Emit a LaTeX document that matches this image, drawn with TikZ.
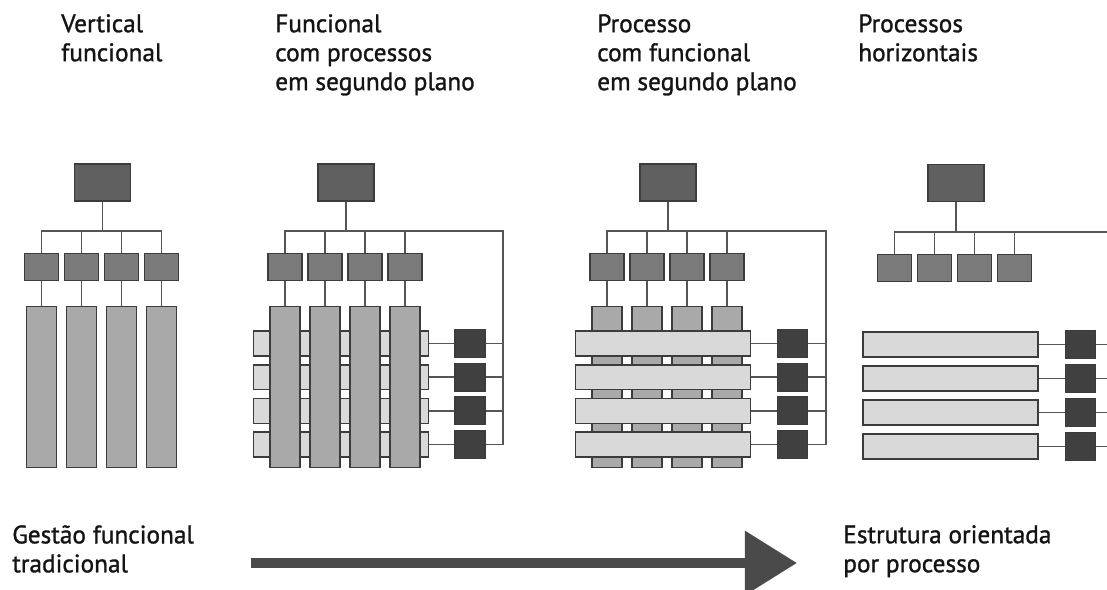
\documentclass[tikz,border=0pt]{standalone}
\usepackage{fontspec}
\setmainfont[FakeBold=1.2]{PT Sans}
\usetikzlibrary{positioning}
\usetikzlibrary{arrows.meta}
\definecolor{topgray}{HTML}{606060}
\definecolor{midgray}{HTML}{7B7B7B}
\definecolor{colgray}{HTML}{A9A9A9}
\definecolor{rowgray}{HTML}{D9D9D9}
\definecolor{ownergray}{HTML}{404040}
\definecolor{edgegray}{HTML}{3C3C3C}
\definecolor{linegray}{HTML}{555555}
\definecolor{arrowgray}{HTML}{4A4A4A}
\definecolor{textgray}{HTML}{141414}

\begin{document}
\begin{tikzpicture}[x=0.025cm, y=-0.025cm,
    box/.style={draw=edgegray, line width=1.1pt, inner sep=0pt},
    topbox/.style={box, fill=topgray, minimum width=1.41cm, minimum height=0.92cm},
    midbox/.style={box, fill=midgray, minimum width=0.84cm, minimum height=0.67cm},
    colbox/.style={box, fill=colgray, minimum width=0.74cm, minimum height=4.02cm},
    rowbox/.style={box, fill=rowgray, minimum width=4.37cm, minimum height=0.62cm},
    ownerbox/.style={box, fill=ownergray, minimum width=0.76cm, minimum height=0.69cm},
    conn/.style={draw=linegray, line width=1.1pt},
    heading/.style={font=\fontsize{18}{20.6}\selectfont, text=textgray, align=left, anchor=north west, inner sep=0pt},
    progress/.style={draw=arrowgray, line width=7.1pt, -{Triangle[length=37pt, width=44pt]}}]
  \useasboundingbox (0,0) rectangle (1107,590);

  % titles
  \node[heading] (t1) at (61,14) {Vertical\\funcional};
  \node[heading] (t2) at (275,14) {Funcional\\com processos\\em segundo plano};
  \node[heading] (t3) at (597,14) {Processo\\com funcional\\em segundo plano};
  \node[heading] (t4) at (858,14) {Processos\\horizontais};

  % vertical functional
  \node[topbox] (p1top) at (102.5,182.5) {};
  \coordinate (p1bus) at (102.5,231);
  \foreach \i in {1,...,4} {
    \node[midbox] (p1m\i) at ({41.5+40*(\i-1)},267) {};
    \node[colbox] (p1c\i) at ({41.5+40*(\i-1)},387) {};
    \draw[conn] (p1top) -- (p1bus) -| (p1m\i);
    \draw[conn] (p1m\i) -- (p1c\i);
  }

  % functional with processes behind
  \node[topbox] (p2top) at (346,182.5) {};
  \coordinate (p2bus) at (346,231);
  \coordinate (p2rail) at (503,231);
  \foreach \j in {1,...,4} {
    \node[rowbox] (p2r\j) at (341,{343.5+33.7*(\j-1)}) {};
    \node[ownerbox] (p2d\j) at (470,{343.5+33.7*(\j-1)}) {};
    \draw[conn] (p2r\j) -- (p2d\j);
    \draw[conn] (p2d\j.east) -- (p2d\j.east -| p2rail);
  }
  \foreach \i in {1,...,4} {
    \node[midbox] (p2m\i) at ({285+40*(\i-1)},267) {};
    \node[colbox] (p2c\i) at ({285+40*(\i-1)},387) {};
    \draw[conn] (p2top) -- (p2bus) -| (p2m\i);
    \draw[conn] (p2m\i) -- (p2c\i);
  }
  \draw[conn] (p2bus) -| (p2rail |- p2d4.east);

  % process with functions behind
  \node[topbox] (p3top) at (668,182.5) {};
  \coordinate (p3bus) at (668,231);
  \coordinate (p3rail) at (826,231);
  \foreach \i in {1,...,4} {
    \node[midbox] (p3m\i) at ({607+40*(\i-1)},267) {};
    \node[colbox] (p3c\i) at ({607+40*(\i-1)},387) {};
    \draw[conn] (p3top) -- (p3bus) -| (p3m\i);
    \draw[conn] (p3m\i) -- (p3c\i);
  }
  \foreach \j in {1,...,4} {
    \node[rowbox] (p3r\j) at (663,{343.5+33.7*(\j-1)}) {};
    \node[ownerbox] (p3d\j) at (792.5,{343.5+33.7*(\j-1)}) {};
    \draw[conn] (p3r\j) -- (p3d\j);
    \draw[conn] (p3d\j.east) -- (p3d\j.east -| p3rail);
  }
  \draw[conn] (p3bus) -| (p3rail |- p3d4.east);

  % horizontal processes
  \node[topbox] (p4top) at (956,183) {};
  \coordinate (p4bus) at (956,232);
  \coordinate (p4edge) at (1107,232);
  \foreach \i in {1,...,4} {
    \node[midbox] (p4m\i) at ({894.5+40*(\i-1)},268) {};
    \draw[conn] (p4top) -- (p4bus) -| (p4m\i);
  }
  \draw[conn] (p4bus) -- (p4edge);
  \foreach \j in {1,...,4} {
    \node[rowbox] (p4r\j) at (950.5,{344.5+34*(\j-1)}) {};
    \node[ownerbox] (p4d\j) at (1080.5,{344.5+34*(\j-1)}) {};
    \draw[conn] (p4r\j) -- (p4d\j);
    \draw[conn] (p4d\j.east) -- (p4d\j.east -| p4edge);
  }

  % evolution arrow
  \node[heading] (s1) at (12,525) {Gestão funcional\\tradicional};
  \node[heading] (s2) at (843,525) {Estrutura orientada\\por processo};
  \coordinate (arrowtail) at (251,563);
  \coordinate (arrowtip) at (797,563);
  \draw[progress] (arrowtail) -- (arrowtip);
\end{tikzpicture}
\end{document}
